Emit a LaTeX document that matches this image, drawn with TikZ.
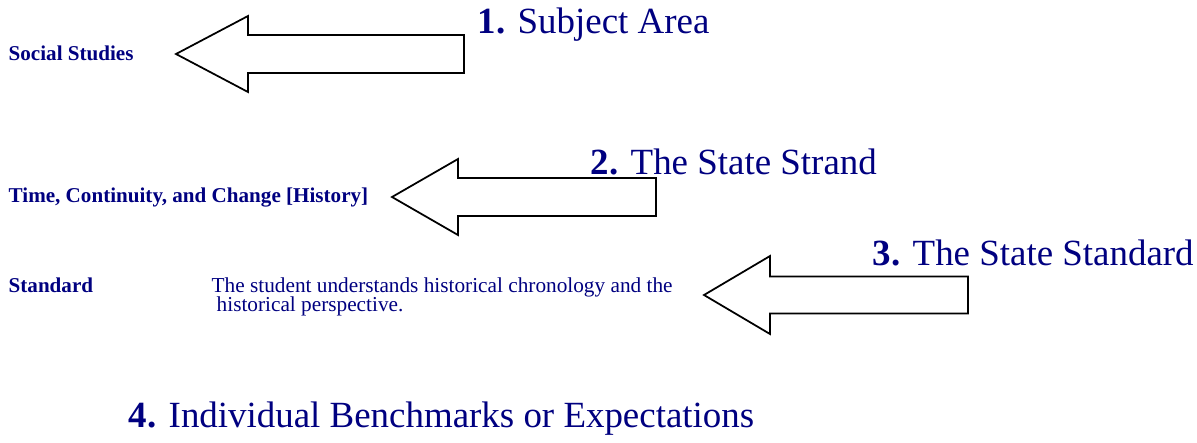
\documentclass[tikz,border=0pt]{standalone}
\usepackage{fontspec}
\setmainfont{Liberation Serif}
\usetikzlibrary{calc}
\definecolor{navyblue}{RGB}{0,0,128}
\def\blockarrow[#1](#2,#3)(#4:#5:#6:#7){\draw[#1] (#2,#3) -- (#4,#3-#6) -- (#4,#3-#7) -- (#5,#3-#7) -- (#5,#3+#7) -- (#4,#3+#7) -- (#4,#3+#6) -- cycle;}

\begin{document}
\begin{tikzpicture}[x=0.01cm, y=-0.01cm,
	bigtext/.style={anchor=base west, inner sep=0pt, text=navyblue, font=\fontsize{10.5}{12}\selectfont},
	smalltext/.style={anchor=base west, inner sep=0pt, text=navyblue, font=\fontsize{6}{7}\selectfont\bfseries},
	bodytext/.style={anchor=base west, inner sep=0pt, text=navyblue, font=\fontsize{6.05}{7}\selectfont},
	arrowbox/.style={draw=black, fill=white, line width=0.5pt, line join=miter}]
			%%%%% START %%%%%
			\useasboundingbox (0,0) rectangle (1197,442);
			
			% arrows
			\blockarrow[arrowbox](176,54)(248:464:38:19);
			\blockarrow[arrowbox](392,197)(458:656:38:19);
			\blockarrow[arrowbox](704,295)(770:968:39:18.5);
			
			% headings
			\node[bigtext] (subject) at (477,33) {\textbf{1.} Subject Area};
			\node[bigtext] (strand) at (590,174) {\textbf{2.} The State Strand};
			\node[bigtext] (standard) at (872,265) {\textbf{3.} The State Standard};
			\node[bigtext] (bench) at (128,427) {\textbf{4.} Individual Benchmarks or Expectations};
			
			% labels
			\node[smalltext] (social) at (8,60) {Social Studies};
			\node[smalltext] (time) at (8,202) {Time, Continuity, and Change [History]};
			\node[smalltext] (stdlabel) at (8,292) {Standard};
			\node[bodytext] (stdtext) at (211,292) {The student understands historical chronology and the};
			\node[bodytext] (stdtext2) at (216,311) {historical perspective.};
			
			%%%%% END %%%%%
		\end{tikzpicture}
\end{document}
